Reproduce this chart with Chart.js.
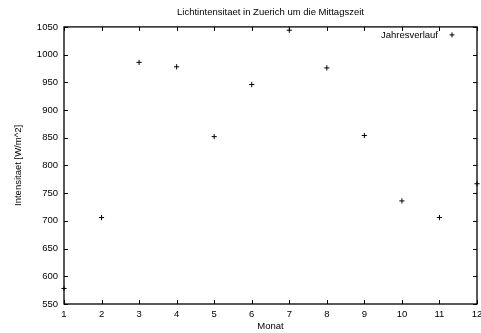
<!DOCTYPE html>
<html>
<head>
<meta charset="utf-8">
<style>
  html, body { margin: 0; padding: 0; background: #fff; }
  #wrap { width: 481px; height: 333px; }
</style>
<script src="https://cdn.jsdelivr.net/npm/chart.js@4/dist/chart.umd.min.js"></script>
</head>
<body>
<div id="wrap"><canvas id="lightChart"></canvas></div>
<script>
const months = [1, 2, 3, 4, 5, 6, 7, 8, 9, 10, 11, 12];
const intensity = [578, 706, 986, 978, 852, 946, 1044, 976, 854, 736, 706, 767];
const seriesLabel = 'Jahresverlauf';

const fontFamily = '"Liberation Sans", Arial, Helvetica, sans-serif';
const fontSize = 9.5;

// gnuplot style frame with inward ticks on all four sides
const framePlugin = {
  id: 'frame',
  afterDraw(chart) {
    const { ctx, chartArea: a, scales } = chart;
    const len = 4;
    ctx.save();
    ctx.strokeStyle = '#000';
    ctx.lineWidth = 1;
    ctx.beginPath();
    scales.x.ticks.forEach(t => {
      const px = Math.round(scales.x.getPixelForValue(t.value)) + 0.5;
      ctx.moveTo(px, a.bottom); ctx.lineTo(px, a.bottom - len);
      ctx.moveTo(px, a.top); ctx.lineTo(px, a.top + len);
    });
    scales.y.ticks.forEach(t => {
      const py = Math.round(scales.y.getPixelForValue(t.value)) + 0.5;
      ctx.moveTo(a.left, py); ctx.lineTo(a.left + len, py);
      ctx.moveTo(a.right, py); ctx.lineTo(a.right - len, py);
    });
    ctx.stroke();
    ctx.lineWidth = 1.3;
    ctx.strokeRect(a.left, a.top, a.right - a.left, a.bottom - a.top);

    // key in the top right corner
    const ky = a.top + 8;
    ctx.fillStyle = '#000';
    ctx.font = fontSize + 'px ' + fontFamily;
    ctx.textAlign = 'right';
    ctx.textBaseline = 'middle';
    ctx.fillText(chart.data.datasets[0].label, a.right - 39, ky);
    ctx.lineWidth = 1;
    ctx.beginPath();
    ctx.moveTo(a.right - 27.5, ky); ctx.lineTo(a.right - 22.5, ky);
    ctx.moveTo(a.right - 25, ky - 2.5); ctx.lineTo(a.right - 25, ky + 2.5);
    ctx.stroke();
    ctx.restore();
  }
};

const ctx = document.getElementById('lightChart').getContext('2d');
const lightChart = new Chart(ctx, {
  type: 'scatter',
  data: {
    datasets: [{
      label: seriesLabel,
      data: months.map((m, i) => ({ x: m, y: intensity[i] })),
      pointStyle: 'cross',
      pointRadius: 2.6,
      pointHoverRadius: 2.6,
      borderColor: '#000',
      borderWidth: 1,
      clip: false
    }]
  },
  options: {
    responsive: true,
    maintainAspectRatio: false,
    animation: false,
    layout: { padding: { left: 0, right: 4, top: 0, bottom: 0 } },
    plugins: {
      legend: { display: false },
      tooltip: { enabled: false },
      title: {
        display: true,
        text: 'Lichtintensitaet in Zuerich um die Mittagszeit',
        color: '#000',
        fullSize: false,
        font: { family: fontFamily, size: fontSize, weight: 'normal' },
        padding: { top: 7, bottom: 8.5 }
      }
    },
    scales: {
      x: {
        type: 'linear',
        min: 1,
        max: 12,
        grid: { display: false, drawTicks: false },
        border: { display: false },
        ticks: {
          stepSize: 1,
          color: '#000',
          padding: 5,
          maxRotation: 0,
          font: { family: fontFamily, size: fontSize },
          callback: v => String(v)
        },
        title: {
          display: true,
          text: 'Monat',
          color: '#000',
          font: { family: fontFamily, size: fontSize },
          padding: { top: 0, bottom: 0.5 }
        },
        afterFit(scale) {
          scale.height = 29;
          scale.paddingRight = 0;
          scale.paddingLeft = 0;
        }
      },
      y: {
        min: 550,
        max: 1050,
        grid: { display: false, drawTicks: false },
        border: { display: false },
        ticks: {
          stepSize: 50,
          color: '#000',
          padding: 6,
          font: { family: fontFamily, size: fontSize },
          callback: v => String(v)
        },
        title: {
          display: true,
          text: 'Intensitaet [W/m^2]',
          color: '#000',
          font: { family: fontFamily, size: fontSize },
          padding: { top: 12.5, bottom: 0 }
        },
        afterFit(scale) {
          scale.width = 64;
        }
      }
    }
  },
  plugins: [framePlugin]
});
</script>
</body>
</html>
